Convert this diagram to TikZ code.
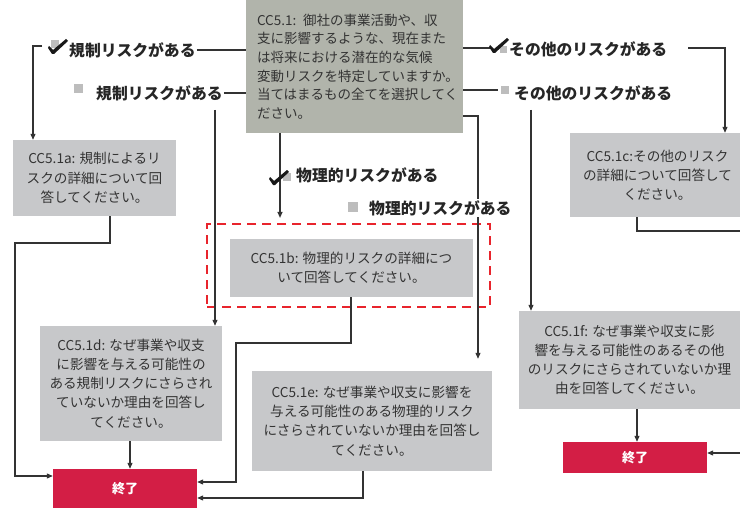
\documentclass[tikz,border=0pt]{standalone}
\usepackage{fontspec}
\setmainfont{Noto Sans CJK JP}
\usetikzlibrary{arrows.meta}
\definecolor{maingray}{HTML}{B1B4AB}
\definecolor{boxgray}{HTML}{C7C8CA}
\definecolor{endred}{HTML}{D31E45}
\definecolor{txt}{HTML}{333333}
\definecolor{ln}{HTML}{333333}
\definecolor{dashred}{HTML}{E8242C}
\definecolor{sq}{HTML}{BDBDBD}
\begin{document}
\begin{tikzpicture}[x=1pt,y=-1pt,
 qbox/.style={fill=boxgray, text=txt, inner sep=0pt, align=center, font=\fontsize{13.6}{19.2}\selectfont},
 endbox/.style={fill=endred, text=white, inner sep=0pt, font=\fontsize{13}{15}\selectfont\bfseries},
 lbl/.style={text=black!85, inner sep=1pt, font=\fontsize{15.8}{17}\selectfont\bfseries, anchor=west},
 conn/.style={draw=ln, line width=1.1pt},
 arr/.style={conn, -{Triangle[length=6pt,width=5pt]}},
 sqbox/.style={fill=sq, minimum size=8pt, inner sep=0pt},
 ckm/.pic={\fill[black!90] (-8,-1) -- (-4,3) -- (9,-8) -- (11,-6) -- (-3,7) -- (-5,7) -- (-9,1) -- cycle;},
]
\useasboundingbox (0,0) rectangle (740,511);
\fill[white] (0,0) rectangle (740,511);

% main question
\node[fill=maingray, text=txt, inner sep=0pt, minimum width=217pt, minimum height=133pt,
      text width=195pt, align=left, font=\fontsize{13.5}{18.7}\selectfont] (main) at (354.5,66.5)
 {CC5.1: 御社の事業活動や、収\\支に影響するような、現在また\\は将来における潜在的な気候\\変動リスクを特定していますか。\\当てはまるもの全てを選択してく\\ださい。};

% boxes
\node[qbox, minimum width=163pt, minimum height=76pt] (a) at (94.5,178) {CC5.1a: 規制によるリ\\スクの詳細について回\\答してください。};
\node[draw=dashred, line width=2.2pt, dash pattern=on 9pt off 6pt, minimum width=283pt, minimum height=83pt, inner sep=0pt] (hl) at (348.5,265.5) {};
\node[qbox, minimum width=243pt, minimum height=58pt] (b) at (351.5,268) {CC5.1b: 物理的リスクの詳細につ\\いて回答してください。};
\node[qbox, minimum width=175pt, minimum height=84pt] (c) at (657.5,175) {CC5.1c:その他のリスク\\の詳細について回答して\\ください。};
\node[qbox, minimum width=182pt, minimum height=115pt] (d) at (131,383.5) {CC5.1d: なぜ事業や収支\\に影響を与える可能性の\\ある規制リスクにさらされ\\ていないか理由を回答し\\てください。};
\node[qbox, minimum width=240pt, minimum height=100pt] (e) at (372,421) {CC5.1e: なぜ事業や収支に影響を\\与える可能性のある物理的リスク\\にさらされていないか理由を回答し\\てください。};
\node[qbox, minimum width=221pt, minimum height=98pt] (f) at (629.5,360) {CC5.1f: なぜ事業や収支に影\\響を与える可能性のあるその他\\のリスクにさらされていないか理\\由を回答してください。};
\node[endbox, minimum width=144pt, minimum height=39pt] (end1) at (125,488.5) {終了};
\node[endbox, minimum width=144pt, minimum height=31pt] (end2) at (635,457.5) {終了};

% bend coordinates
\coordinate (b1) at (33,46);
\coordinate (v2) at (215,110);
\coordinate (a1) at (110,243);
\coordinate (a2) at (15,243);
\coordinate (v5) at (280,133);
\coordinate (r1) at (478,116);
\coordinate (p1) at (351,343);
\coordinate (p2) at (236,343);
\coordinate (q1) at (363,498);
\coordinate (c1) at (637,231);
\coordinate (cx) at (745,231);
\coordinate (t1) at (725,48);
\coordinate (v6) at (531,110);
\coordinate (x6) at (637,409);
\coordinate (rin) at (745,453);
\coordinate (chk5) at (491,48);

% connectors
\draw[arr] (42,46) -- (b1) -- (b1 |- a.north);
\draw[arr] (v2) -- (v2 |- d.north);
\draw[arr] (a.south -| a1) -- (a1) -- (a2) -- (a2 |- 0,476) -- ([yshift=12.5pt]end1.west);
\draw[arr] (d.south -| 130,0) -- (130,0 |- end1.north);
\draw[arr] (v5) -- ([yshift=5pt]v5 |- hl.north);
\draw[arr, shorten >=12pt] (main.east |- r1) -- (r1) -- (r1 |- e.north);
\draw[arr] (b.south -| p1) -- (p1) -- (p2) -- (p2 |- 0,482) -- ([yshift=6.5pt]end1.east);
\draw[arr] (e.south -| q1) -- (q1) -- (q1 -| end1.east);
\draw[conn] (c.south -| c1) -- (c1) -- (cx);
\draw[arr] (688,48) -- (t1) -- (t1 |- c.north);
\draw[arr] (v6) -- (v6 |- f.north);
\draw[arr] (f.south -| x6) -- (x6 |- end2.north);
\draw[arr] (rin) -- ([yshift=4.5pt]end2.east);

% labels
\node[sqbox, minimum size=8pt] (sq1) at (55,44) {};
\pic at (57,47) {ckm};
\node[lbl] (lab1) at (68,50) {規制リスクがある};
\node[sqbox, minimum size=9pt] (sq2) at (78,89) {};
\node[lbl] (lab2) at (95,93) {規制リスクがある};
\draw[conn] (lab1.east) -- (lab1.east -| main.west);
\draw[conn] (lab2.east) -- (lab2.east -| main.west);

\node[sqbox, minimum size=8pt] (sq3) at (287,177) {};
\pic at (278,178) {ckm};
\node[lbl] (lab3) at (295,175) {物理的リスクがある};
\node[lbl, fill=white, inner sep=1pt] (lab4) at (368,208) {物理的リスクがある};
\node[sqbox, minimum size=10pt] (sq4) at (353,207) {};

\node[sqbox, minimum size=7pt] (sq5) at (503,50) {};
\draw[conn] (main.east |- chk5) -- (chk5);
\pic at (498,46) {ckm};
\node[lbl] (lab5) at (508,49) {その他のリスクがある};
\node[sqbox, minimum size=8pt] (sq6) at (505,90) {};
\node[lbl] (lab6) at (513,93) {その他のリスクがある};
\draw[conn] (main.east |- sq6) -- ([xshift=-3pt]sq6.west);
\end{tikzpicture}
\end{document}
